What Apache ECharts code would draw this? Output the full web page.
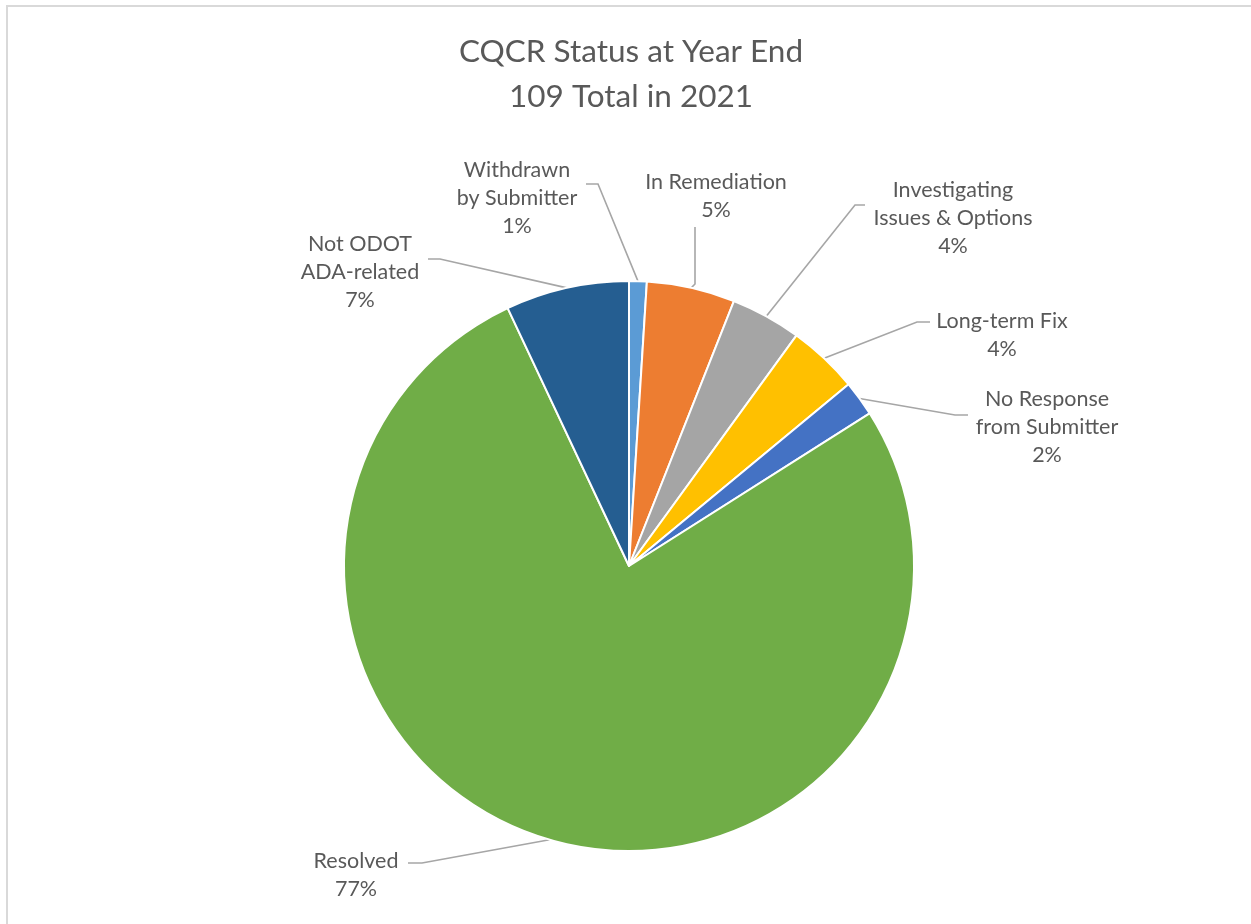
<!DOCTYPE html>
<html>
<head>
<meta charset="utf-8">
<script src="https://cdn.jsdelivr.net/npm/echarts@6/dist/echarts.min.js"></script>
<style>
html,body{margin:0;padding:0;background:#fff;}
#chart{width:1251px;height:924px;}
</style>
</head>
<body>
<div id="chart"></div>
<script>
// ---- data ----
const titleLines = ['CQCR Status at Year End', '109 Total in 2021'];
const categories = [
  'Withdrawn\nby Submitter',
  'In Remediation',
  'Investigating\nIssues & Options',
  'Long-term Fix',
  'No Response\nfrom Submitter',
  'Resolved',
  'Not ODOT\nADA-related'
];
const percentValues = [1, 5, 4, 4, 2, 77, 7];

// ---- styles / layout ----
const sliceColors = ['#5B9BD5', '#ED7D31', '#A5A5A5', '#FFC000', '#4472C4', '#70AD47', '#255E91'];
const FONT = 'Lato, "Noto Sans", sans-serif';
const TEXT = '#595959';
// label centres and leader-line shapes (bend point, end point)
const labelPlacement = [
  { x: 517, y: 198, bend: [598, 184], end: [586, 184] },
  { x: 716, y: 196, bend: [695, 284], end: [695, 227] },
  { x: 953, y: 218, bend: [855, 205], end: [865, 205] },
  { x: 1002, y: 335, bend: [917, 322], end: [930, 322] },
  { x: 1047, y: 427, bend: [955, 415], end: [968, 415] },
  { x: 356, y: 875, bend: [422, 863], end: [408, 863] },
  { x: 360, y: 272, bend: [440, 259], end: [428, 259] }
];

const chart = echarts.init(document.getElementById('chart'), null, { renderer: 'canvas' });
const option = {
  animation: false,
  backgroundColor: '#fff',
  graphic: [
    { type: 'rect', shape: { x: 7, y: 6, width: 1300, height: 1000 },
      style: { fill: 'none', stroke: '#D9D9D9', lineWidth: 2 }, silent: true },
    { type: 'text', x: 631, y: 74,
      style: { text: titleLines.join('\n'), fill: TEXT, font: '400 31.5px ' + FONT,
        textAlign: 'center', textVerticalAlign: 'middle', lineHeight: 45 } }
  ],
  series: [{
    type: 'pie',
    center: [629, 566],
    radius: 285,
    startAngle: 90,
    clockwise: true,
    avoidLabelOverlap: false,
    itemStyle: { borderColor: '#fff', borderWidth: 2 },
    label: {
      show: true,
      position: 'outside',
      formatter: p => p.name + '\n' + p.value + '%',
      color: TEXT,
      fontFamily: FONT,
      fontSize: 21.5,
      lineHeight: 28,
      align: 'center'
    },
    labelLine: { show: true, length: 10, length2: 10, lineStyle: { color: '#A6A6A6', width: 1.6 } },
    labelLayout: function (params) {
      const lp = labelPlacement[params.dataIndex];
      const start = params.labelLinePoints ? params.labelLinePoints[0] : lp.bend;
      return {
        x: lp.x, y: lp.y, align: 'center', verticalAlign: 'middle',
        labelLinePoints: [start, lp.bend, lp.end]
      };
    },
    data: categories.map((c, i) => ({ name: c, value: percentValues[i], itemStyle: { color: sliceColors[i] } }))
  }]
};
chart.setOption(option);
</script>
</body>
</html>
